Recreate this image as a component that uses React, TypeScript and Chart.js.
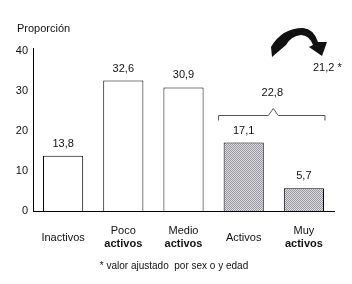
import React, { useEffect, useRef } from "react";
import { Chart, registerables } from "chart.js";

Chart.register(...registerables);

const labelLine1 = ["Inactivos", "Poco", "Medio", "Activos", "Muy"];
const labelLine2 = ["", "activos", "activos", "", "activos"];
const values = [13.8, 32.6, 30.9, 17.1, 5.7];
const shaded = [false, false, false, true, true];
const yTicks = [0, 10, 20, 30, 40];
const combinedValue = 22.8;
const adjustedLabel = "21,2 *";
const yTitle = "Proporción";
const footnote = "* valor ajustado  por sex o y edad";

const FONT = "Arial, 'Liberation Sans', sans-serif";
const fmt = (v: number) => v.toFixed(1).replace(".", ",");

function makePattern(): CanvasPattern | string {
  const c = document.createElement("canvas");
  c.width = 2;
  c.height = 2;
  const g = c.getContext("2d");
  if (!g) return "#b8b8bc";
  g.fillStyle = "#dadade";
  g.fillRect(0, 0, 2, 2);
  g.fillStyle = "#9a9aa0";
  g.fillRect(0, 0, 1, 1);
  g.fillRect(1, 1, 1, 1);
  const p = g.createPattern(c, "repeat");
  return p || "#b8b8bc";
}

const overlay = {
  id: "overlay",
  afterDraw(chart: any) {
    const ctx = chart.ctx as CanvasRenderingContext2D;
    const xs = chart.scales.x;
    const ys = chart.scales.y;
    const meta = chart.getDatasetMeta(0);
    ctx.save();
    ctx.fillStyle = "#111";
    ctx.textBaseline = "middle";

    // value labels
    ctx.font = `11px ${FONT}`;
    ctx.textAlign = "center";
    meta.data.forEach((el: any, i: number) => {
      ctx.fillText(fmt(values[i]), el.x, el.y - 12);
    });

    // x labels
    const cy = ys.bottom + 26.5;
    labelLine1.forEach((l1, i) => {
      const x = xs.getPixelForValue(i);
      if (labelLine2[i]) {
        ctx.font = `11px ${FONT}`;
        ctx.fillText(l1, x, cy - 6.5);
        ctx.font = `bold 11px ${FONT}`;
        ctx.fillText(labelLine2[i], x, cy + 6.5);
      } else {
        ctx.font = `11px ${FONT}`;
        ctx.fillText(l1, x, cy);
      }
    });

    // y title
    ctx.font = `11px ${FONT}`;
    ctx.textAlign = "left";
    ctx.fillText(yTitle, 17, 29);

    // footnote
    ctx.font = `10px ${FONT}`;
    ctx.textAlign = "center";
    ctx.fillText(footnote, 174, 266);

    // bracket
    const b3: any = meta.data[3];
    const b4: any = meta.data[4];
    const left = b3.x - b3.width / 2 - 5;
    const right = b4.x + b4.width / 2 + 1;
    const by = Math.round(ys.getPixelForValue(24)) + 0.5;
    const mid = (left + right) / 2 + 1.5;
    ctx.strokeStyle = "#555";
    ctx.lineWidth = 1;
    ctx.beginPath();
    ctx.moveTo(left, by + 5);
    ctx.lineTo(left, by);
    ctx.lineTo(mid - 5, by);
    ctx.lineTo(mid, by - 7);
    ctx.lineTo(mid + 5, by);
    ctx.lineTo(right, by);
    ctx.lineTo(right, by + 5);
    ctx.stroke();
    ctx.font = `11px ${FONT}`;
    ctx.fillText(fmt(combinedValue), mid - 1, ys.getPixelForValue(29.5));

    // curved arrow
    ctx.fillStyle = "#111";
    ctx.beginPath();
    ctx.moveTo(271, 47);
    ctx.quadraticCurveTo(282, 28, 303, 28);
    ctx.quadraticCurveTo(314, 29, 318, 42);
    ctx.lineTo(327, 42);
    ctx.lineTo(322, 56);
    ctx.lineTo(309, 47);
    ctx.lineTo(313, 45);
    ctx.quadraticCurveTo(309, 35, 301, 35);
    ctx.quadraticCurveTo(291, 36, 286, 45);
    ctx.lineTo(272, 57);
    ctx.closePath();
    ctx.fill();

    ctx.textAlign = "left";
    ctx.font = `11px ${FONT}`;
    ctx.fillText(adjustedLabel, 313, 68);

    ctx.restore();
  },
};

export default function App() {
  const ref = useRef<HTMLCanvasElement | null>(null);
  useEffect(() => {
    if (!ref.current) return;
    const pattern = makePattern();
    const chart = new Chart(ref.current, {
      type: "bar",
      data: {
        labels: labelLine1.map((l, i) => (labelLine2[i] ? `${l} ${labelLine2[i]}` : l)),
        datasets: [
          {
            data: values,
            backgroundColor: shaded.map((s) => (s ? pattern : "#ffffff")) as any,
            borderColor: "#000",
            borderWidth: 1,
            barPercentage: 0.667,
            categoryPercentage: 1,
          },
        ],
      },
      options: {
        responsive: false,
        animation: false,
        layout: { padding: { top: 48, right: 18, left: 0, bottom: 0 } },
        plugins: { legend: { display: false }, tooltip: { enabled: false } },
        scales: {
          x: {
            grid: { display: false },
            border: { display: true, color: "#000", width: 1 },
            ticks: { display: false },
            afterFit: (s: any) => {
              s.height = 73;
            },
          },
          y: {
            min: 0,
            max: 40.75,
            grid: { display: false, drawTicks: false },
            border: { display: true, color: "#000", width: 1 },
            afterBuildTicks: (s: any) => {
              s.ticks = yTicks.map((v) => ({ value: v }));
            },
            ticks: {
              padding: 5,
              color: "#111",
              font: { size: 11, family: FONT },
            },
            afterFit: (s: any) => {
              s.width = 33;
            },
          },
        },
      },
      plugins: [overlay],
    });
    return () => chart.destroy();
  }, []);
  return (
    <div style={{ position: "fixed", left: 0, top: 0, width: 352, height: 284, background: "#fff" }}>
      <canvas ref={ref} width={352} height={284} />
    </div>
  );
}
